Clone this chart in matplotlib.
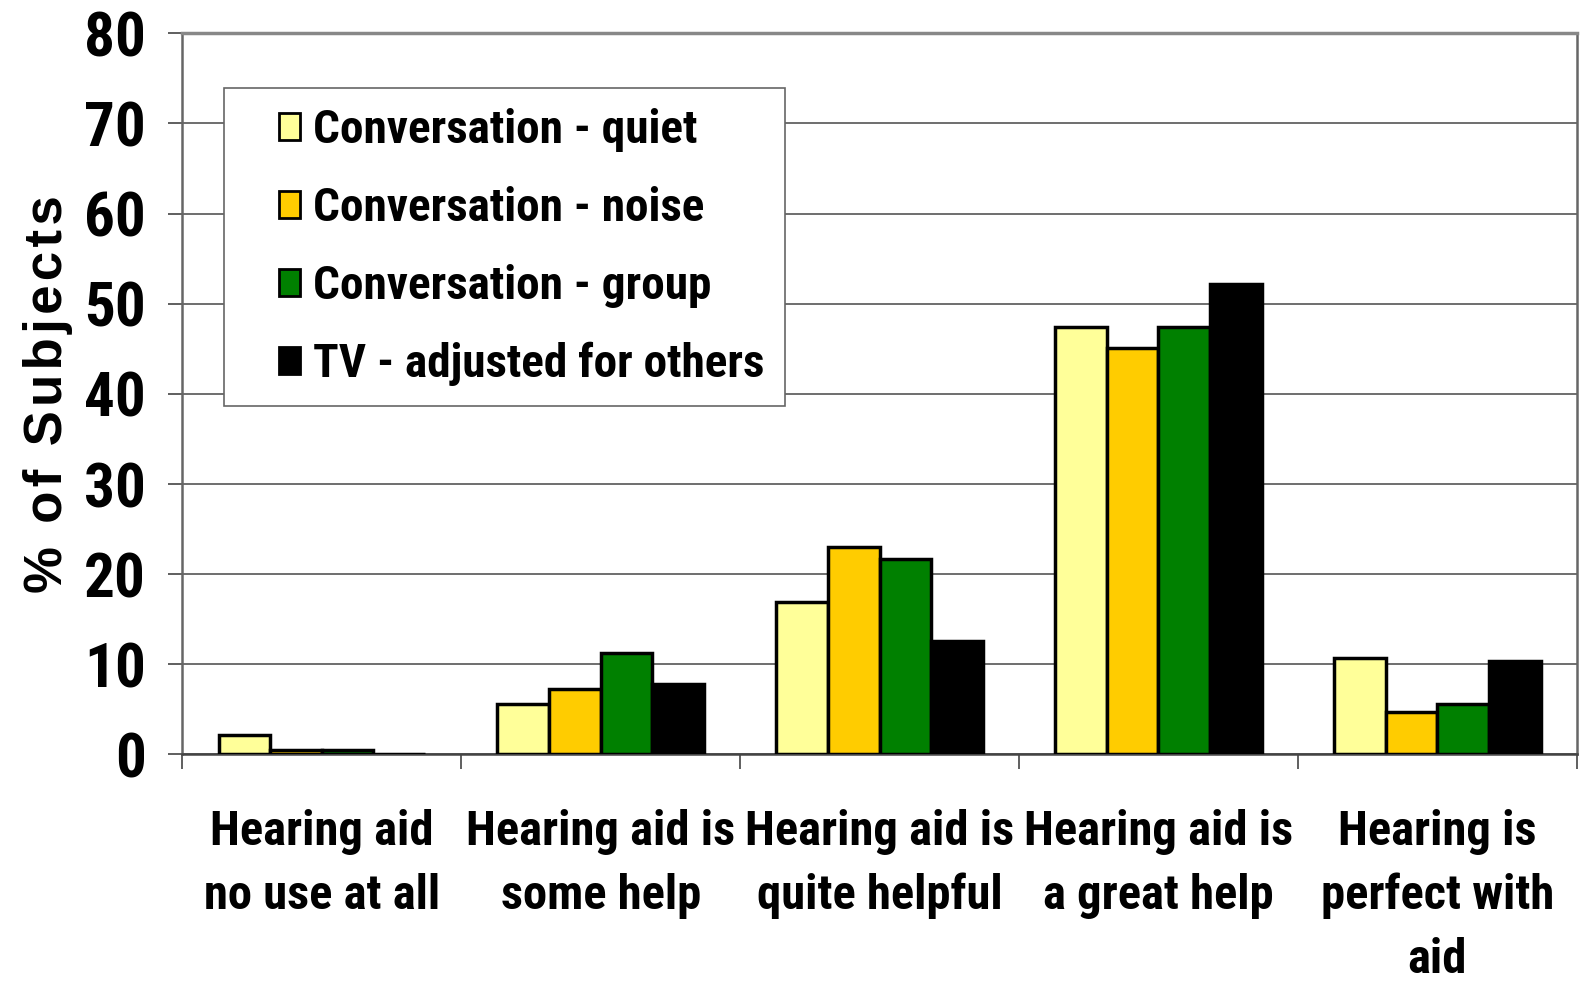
import numpy as np
import matplotlib as mpl
import matplotlib.pyplot as plt
from matplotlib import font_manager as fm
from matplotlib.patches import Rectangle
from matplotlib.container import BarContainer
from matplotlib.legend_handler import HandlerPatch, update_from_first_child

categories = ['Hearing aid\nno use at all', 'Hearing aid is\nsome help',
              'Hearing aid is\nquite helpful', 'Hearing aid is\na great help',
              'Hearing is\nperfect with\naid']
series_names = ['Conversation - quiet', 'Conversation - noise',
                'Conversation - group', 'TV - adjusted for others']
quiet = [2.1, 5.6, 16.9, 47.4, 10.7]
noise = [0.5, 7.3, 23.0, 45.1, 4.7]
group = [0.5, 11.2, 21.7, 47.4, 5.6]
tv = [0.0, 7.8, 12.6, 52.2, 10.4]
y_ticks = [0, 10, 20, 30, 40, 50, 60, 70, 80]
colors = ['#FFFF99', '#FFCC00', '#008000', '#000000']

# narrow bold font, like Arial Narrow; fall back to smaller Liberation Sans
installed = {f.name for f in fm.fontManager.ttflist}
narrow_name = None
for cand in ['Liberation Sans Narrow', 'Roboto Condensed', 'Archivo Narrow']:
    if cand in installed:
        narrow_name = cand
        break
if narrow_name:
    narrow = [narrow_name, 'DejaVu Sans']
    nsize, lsize, tsize = 35, 34, 44
else:
    narrow = ['Liberation Sans', 'DejaVu Sans']
    nsize, lsize, tsize = 28, 27, 36
wide = ['Liberation Sans', 'DejaVu Sans']

fig = plt.figure(figsize=(15.8, 9.81), dpi=100)
ax = fig.add_axes([0.1154, 0.231, 0.8826, 0.735])

x = np.arange(len(categories))
w = 0.185
for i, (vals, name) in enumerate(zip([quiet, noise, group, tv], series_names)):
    ax.bar(x + (i - 1.5) * w, vals, w, color=colors[i], edgecolor='black',
           linewidth=2.5, label=name, zorder=3)

ax.set_xlim(-0.5, 4.5)
ax.set_ylim(0, 80)
ax.set_yticks(y_ticks)
ax.yaxis.grid(True, color='#555555', linewidth=1.2, zorder=0)
ax.set_yticklabels([str(v) for v in y_ticks], family=narrow,
                   fontsize=tsize, fontweight='bold')
ax.tick_params(axis='y', length=10, width=1.2, color='#444444', pad=16, direction='out')

ax.set_xticks(x)
ax.set_xticklabels(categories, family=narrow, fontsize=nsize, fontweight='bold',
                   linespacing=1.5)
ax.tick_params(axis='x', length=0, pad=39)
ax.set_xticks(np.arange(-0.5, 5.0, 1.0), minor=True)
ax.tick_params(axis='x', which='minor', length=11, width=1.2, color='#444444')

for s in ['right', 'left']:
    ax.spines[s].set_color('#666666')
    ax.spines[s].set_linewidth(1.8)
ax.spines['top'].set_color('#888888')
ax.spines['top'].set_linewidth(2.5)
ax.spines['bottom'].set_color('#444444')
ax.spines['bottom'].set_linewidth(1.8)

ylab = '\u200a'.join('% of Subjects')
ax.set_ylabel(ylab, family=wide, fontsize=38, fontweight='bold', labelpad=8)


# small square key drawn at the right end of the handle slot
def right_box(legend, orig_handle, xdescent, ydescent, width, height, fontsize):
    rw = 0.45 * fontsize
    rh = 0.75 * height
    return Rectangle((-xdescent + width - rw, -ydescent + (height - rh) / 2), rw, rh)


leg = ax.legend(loc='upper left', bbox_to_anchor=(0.0296, 0.9246), frameon=True,
                fancybox=False, edgecolor='#666666', framealpha=1,
                prop={'family': narrow, 'size': lsize, 'weight': 'bold'},
                handler_map={BarContainer: HandlerPatch(patch_func=right_box,
                                                        update_func=update_from_first_child)},
                handlelength=1.2, handleheight=0.8, handletextpad=0.28,
                labelspacing=0.72, borderpad=0.42, borderaxespad=0)
leg.get_frame().set_linewidth(1.2)
leg.set_zorder(5)
for h in leg.legend_handles:
    h.set_linewidth(2)

fig.savefig('out.png', dpi=100)
